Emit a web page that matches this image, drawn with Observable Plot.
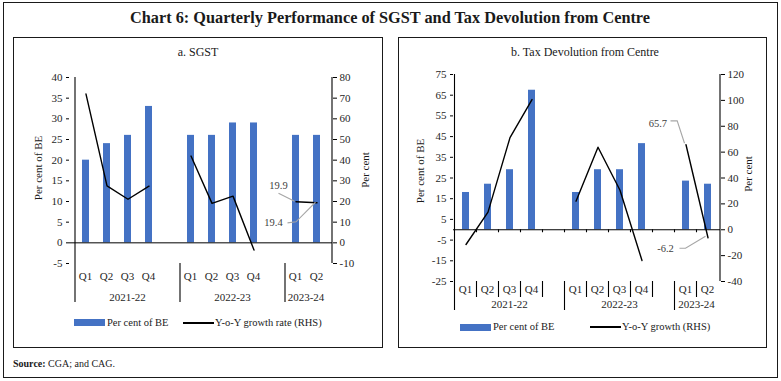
<!DOCTYPE html>
<html><head><meta charset="utf-8">
<script src="https://cdn.jsdelivr.net/npm/d3@7"></script>
<script src="https://cdn.jsdelivr.net/npm/@observablehq/plot@0.6"></script>
<style>
body{margin:0;background:#fff;font-family:"Liberation Serif",serif;}
#wrap{position:relative;width:781px;height:381px;overflow:hidden;background:#fff;}
.box{position:absolute;border:1.3px solid #1a1a1a;box-sizing:border-box;}
.t{position:absolute;white-space:nowrap;color:#1a1a1a;line-height:1;}
.c{transform:translate(-50%,-50%);}
.r{transform:translate(-50%,-50%) rotate(-90deg);}
.plot{position:absolute;}
</style></head><body><div id="wrap">
<div class="box" style="left:3px;top:2px;width:775px;height:376px;"></div>
<div class="t c" style="left:390px;top:18px;font-size:16.3px;font-weight:bold;">Chart 6: Quarterly Performance of SGST and Tax Devolution from Centre</div>
<div class="box" style="left:13px;top:37px;width:370px;height:311px;"></div>
<div class="box" style="left:398px;top:37px;width:369px;height:311px;"></div>
<div class="t c" style="left:198px;top:52px;font-size:12px;">a. SGST</div>
<div class="t c" style="left:585px;top:52px;font-size:12px;">b. Tax Devolution from Centre</div>
<div class="t r" style="left:38px;top:168px;font-size:11px;">Per cent of BE</div>
<div class="t r" style="left:365px;top:170px;font-size:11px;">Per cent</div>
<div class="t r" style="left:420px;top:171px;font-size:11px;">Per cent of BE</div>
<div class="t r" style="left:748px;top:174px;font-size:11px;">Per cent</div>
<div style="position:absolute;left:74px;top:319px;width:31px;height:7px;background:#4472C4;"></div>
<div class="t" style="left:107px;top:317.8px;font-size:10.5px;">Per cent of BE</div>
<div style="position:absolute;left:183px;top:322px;width:31px;height:2px;background:#000;"></div>
<div class="t" style="left:215px;top:317.8px;font-size:10.5px;">Y-o-Y growth rate (RHS)</div>
<div style="position:absolute;left:460px;top:323.5px;width:31px;height:7px;background:#4472C4;"></div>
<div class="t" style="left:493px;top:321.8px;font-size:10.5px;">Per cent of BE</div>
<div style="position:absolute;left:590px;top:326px;width:31px;height:2px;background:#000;"></div>
<div class="t" style="left:622px;top:321.8px;font-size:10.5px;">Y-o-Y growth (RHS)</div>
<div class="t" style="left:13px;top:359px;font-size:10px;"><b>Source:</b> CGA; and CAG.</div>
<div id="p1" class="plot" style="left:14px;top:60px;"></div>
<div id="p2" class="plot" style="left:399px;top:60px;"></div>
</div>
<script>
// ---- data ----
const quarters = ["Q1","Q2","Q3","Q4","","Q1","Q2","Q3","Q4","","Q1","Q2"];
const yearOfSlot = ["2021-22","2021-22","2021-22","2021-22","2021-22","2022-23","2022-23","2022-23","2022-23","2022-23","2023-24","2023-24"];
const yearGroups = ["2021-22","2022-23","2023-24"];

const sgstBE     = [20, 24, 26, 33, null, 26, 26, 29, 29, null, 26, 26];
const sgstGrowth = [72, 27.6, 21.1, 27.4, null, 42, 19.1, 22.6, -3.5, null, 19.9, 19.4];
const sgstLeftTicks  = [-5, 0, 5, 10, 15, 20, 25, 30, 35, 40];
const sgstRightTicks = [-10, 0, 10, 20, 30, 40, 50, 60, 70, 80];

const devBE     = [18, 22, 29, 67.4, null, 18, 29, 29, 41.6, null, 23.5, 22];
const devGrowth = [-11.4, 13.6, 71.2, 100.6, null, 22.1, 63.8, 30.5, -23.8, null, 65.7, -6.2];
const devLeftTicks  = [-25, -15, -5, 5, 15, 25, 35, 45, 55, 65, 75];
const devRightTicks = [-40, -20, 0, 20, 40, 60, 80, 100, 120];

const BLUE = "#4472C4";
const FONT = "Liberation Serif";

function panel(cfg) {
  const keys = quarters.map((q, i) => i + "|" + yearOfSlot[i] + "|" + q);
  const factor = (cfg.rightTicks.at(-1) - cfg.rightTicks[0]) / (cfg.leftTicks.at(-1) - cfg.leftTicks[0]);
  const rows = keys.map((k, i) => ({k, be: cfg.be[i], g: cfg.growth[i] == null ? NaN : cfg.growth[i] / factor}));
  const chart = Plot.plot({
    width: cfg.width, height: cfg.height,
    marginLeft: cfg.ml, marginRight: cfg.mr, marginTop: cfg.mt, marginBottom: cfg.mb,
    style: {fontFamily: FONT, fontSize: "11px", color: "#262626", background: "transparent", overflow: "visible"},
    x: {type: "band", domain: keys, paddingInner: 0.68, paddingOuter: 0.34, axis: null},
    y: {domain: [cfg.leftTicks[0], cfg.leftTicks.at(-1)], axis: null},
    marks: [
      Plot.barY(rows.filter(d => d.be != null), {x: "k", y: "be", fill: BLUE}),
      Plot.ruleY([0], {stroke: "#000", strokeWidth: 1}),
      Plot.axisY({anchor: "left", ticks: cfg.leftTicks, tickSize: 3, tickPadding: 4, tickFormat: d => String(d), label: null, stroke: "#000"}),
      Plot.axisY({anchor: "right", ticks: cfg.rightTicks.map(v => v / factor), tickSize: 4, tickPadding: 3, tickFormat: d => String(Math.round(d * factor)), label: null, stroke: "#000"}),
      Plot.lineY(rows, {x: "k", y: "g", stroke: "#000", strokeWidth: 1.4})
    ]
  });

  const sx = chart.scale("x"), sy = chart.scale("y");
  const n = keys.length;
  const step = sx.step ?? (sx.range[1] - sx.range[0]) / n;
  const bw = sx.bandwidth ?? step * 0.32;
  const start = i => sx.apply(keys[i]) - (step - bw) / 2;
  const mid = i => sx.apply(keys[i]) + bw / 2;
  const yb = sy.apply(cfg.leftTicks[0]), yt = sy.apply(cfg.leftTicks.at(-1));
  const y0 = sy.apply(0);
  const xr = sx.range[1];
  const svg = d3.select(chart);
  const g = svg.append("g").attr("stroke", "#000").attr("stroke-width", 1.1).attr("fill", "none");
  const line = (x1, y1, x2, y2) => g.append("line").attr("x1", x1).attr("y1", y1).attr("x2", x2).attr("y2", y2);
  line(start(0), yt, start(0), yb + cfg.sepLong);
  line(xr, yt, xr, yb);
  const groupStarts = yearGroups.map(y => yearOfSlot.indexOf(y));
  groupStarts.slice(1).forEach(i => line(start(i), yb, start(i), yb + cfg.sepLong));
  if (cfg.shortSeps) {
    for (let i = 1; i < n; i++) {
      if (!groupStarts.includes(i)) line(start(i), yb, start(i), yb + cfg.sepShort);
    }
    for (let i = 1; i < n; i++) line(start(i), y0, start(i), y0 + 3);
  }
  const tg = svg.append("g").attr("font-family", FONT).attr("font-size", 11).attr("fill", "#262626")
    .attr("text-anchor", "middle").attr("dominant-baseline", "central");
  quarters.forEach((q, i) => { if (q) tg.append("text").attr("x", mid(i)).attr("y", yb + cfg.qDy).text(q); });
  yearGroups.forEach(y => {
    const first = yearOfSlot.indexOf(y), last = yearOfSlot.lastIndexOf(y);
    tg.append("text").attr("x", (start(first) + start(last) + step) / 2).attr("y", yb + cfg.yDy).text(y);
  });
  // data labels with leader lines
  cfg.labels.forEach(L => {
    const px = mid(L.i), py = sy.apply(cfg.growth[L.i] / factor);
    svg.append("polyline").attr("fill", "none").attr("stroke", "#A6A6A6").attr("stroke-width", 1.1)
      .attr("points", L.path.map(([dx, dy]) => (px + dx) + "," + (py + dy)).join(" "));
    tg.append("text").attr("x", px + L.dx).attr("y", py + L.dy).attr("fill", "#404040").attr("font-size", 10.5)
      .text(cfg.growth[L.i].toFixed(1));
  });
  document.getElementById(cfg.id).appendChild(chart);
}

panel({
  id: "p1", be: sgstBE, growth: sgstGrowth, leftTicks: sgstLeftTicks, rightTicks: sgstRightTicks,
  width: 366, height: 255, ml: 55, mr: 48, mt: 17, mb: 52,
  qDy: 13, yDy: 34, sepLong: 39, shortSeps: false,
  labels: [
    {i: 10, dx: -17, dy: -15.5, path: [[-1, 0], [-17, -8]]},
    {i: 11, dx: -43, dy: 20.3, path: [[-1, 0], [-20.5, 19.6], [-29, 20.6]]}
  ]
});
panel({
  id: "p2", be: devBE, growth: devGrowth, leftTicks: devLeftTicks, rightTicks: devRightTicks,
  width: 366, height: 255, ml: 54, mr: 45, mt: 14, mb: 34,
  qDy: 8, yDy: 23, sepLong: 29, sepShort: 16, shortSeps: true,
  labels: [
    {i: 10, dx: -27.6, dy: -21, path: [[-1, -1], [-8.3, -23.4], [-15, -23.4]]},
    {i: 11, dx: -42, dy: 11, path: [[-2, -1], [-22, 11], [-28, 11]]}
  ]
});
</script>
</body></html>
